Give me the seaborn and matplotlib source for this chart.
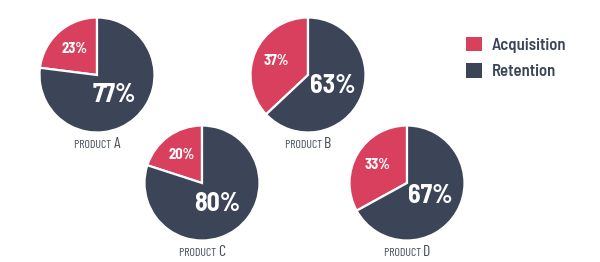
import matplotlib
matplotlib.use("Agg")
import matplotlib.pyplot as plt
import seaborn as sns
from matplotlib.offsetbox import TextArea, HPacker, AnnotationBbox
from matplotlib import font_manager

# ---- data ----
products = ["A", "B", "C", "D"]
acquisition = [23, 37, 20, 33]
retention = [77, 63, 80, 67]
series_labels = ["Acquisition", "Retention"]

sns.set_theme(style="white")
names = {f.name for f in font_manager.fontManager.ttflist}


def pick(cands):
    for c in cands:
        if c in names:
            return [c, "DejaVu Sans"]
    return ["DejaVu Sans"]


FAM = pick(["Barlow Condensed", "Roboto Condensed", "Archivo Narrow", "Liberation Sans Narrow"])
FAM_SEMI = pick(["Barlow Semi Condensed", "Barlow Condensed", "Roboto Condensed", "Archivo Narrow"])
plt.rcParams["font.family"] = FAM

RED = "#D9405E"
DARK = "#3C4558"

W, H = 600, 262
fig = plt.figure(figsize=(6, 2.62), dpi=100)
ax = fig.add_axes([0, 0, 1, 1])
ax.set_xlim(0, W)
ax.set_ylim(0, H)
ax.set_aspect("equal")
ax.axis("off")

# layout (pixel positions, y measured from top)
centers = [(97, 75), (308, 75), (202, 183), (407, 183)]
R = 57.5

first_wedges = None
for i, p in enumerate(products):
    cx, cy = centers[i]
    cy = H - cy
    vals = [acquisition[i], retention[i]]
    wedges, texts, autotexts = ax.pie(
        vals, colors=[RED, DARK], startangle=90, counterclock=True,
        center=(cx, cy), radius=R, autopct=lambda v: f"{v:.0f}%",
        pctdistance=1.0,
        wedgeprops=dict(edgecolor="white", linewidth=1.6),
        textprops=dict(color="white", fontweight="bold", family=FAM_SEMI))
    if first_wedges is None:
        first_wedges = wedges
    # reposition percentage labels
    for t, frac, size in zip(autotexts, [0.6, 0.46], [10.5, 18.5]):
        x, y = t.get_position()
        t.set_position((cx + (x - cx) * frac, cy + (y - cy) * frac))
        t.set_fontsize(size)
    # product label with small caps look
    ta1 = TextArea("PRODUCT ", textprops=dict(fontsize=8.5, color="#454d5e", family=FAM))
    ta2 = TextArea(p, textprops=dict(fontsize=11.5, color="#454d5e", family=FAM))
    box = HPacker(children=[ta1, ta2], align="baseline", pad=0, sep=0)
    ab = AnnotationBbox(box, (cx, cy - 69), frameon=False, box_alignment=(0.5, 0.5))
    ax.add_artist(ab)

ax.set_xlim(0, W)
ax.set_ylim(0, H)

leg = ax.legend(first_wedges, series_labels, loc="upper left",
                bbox_to_anchor=(451 / W, 1 - 22 / H), frameon=False,
                handlelength=0.95, handleheight=0.95, handletextpad=0.6,
                labelspacing=0.62, prop=dict(weight="semibold", size=12, family=FAM_SEMI))
for t in leg.get_texts():
    t.set_color(DARK)
for h in leg.legend_handles:
    h.set_edgecolor("none")

fig.savefig("out.png", dpi=100, facecolor="white")
